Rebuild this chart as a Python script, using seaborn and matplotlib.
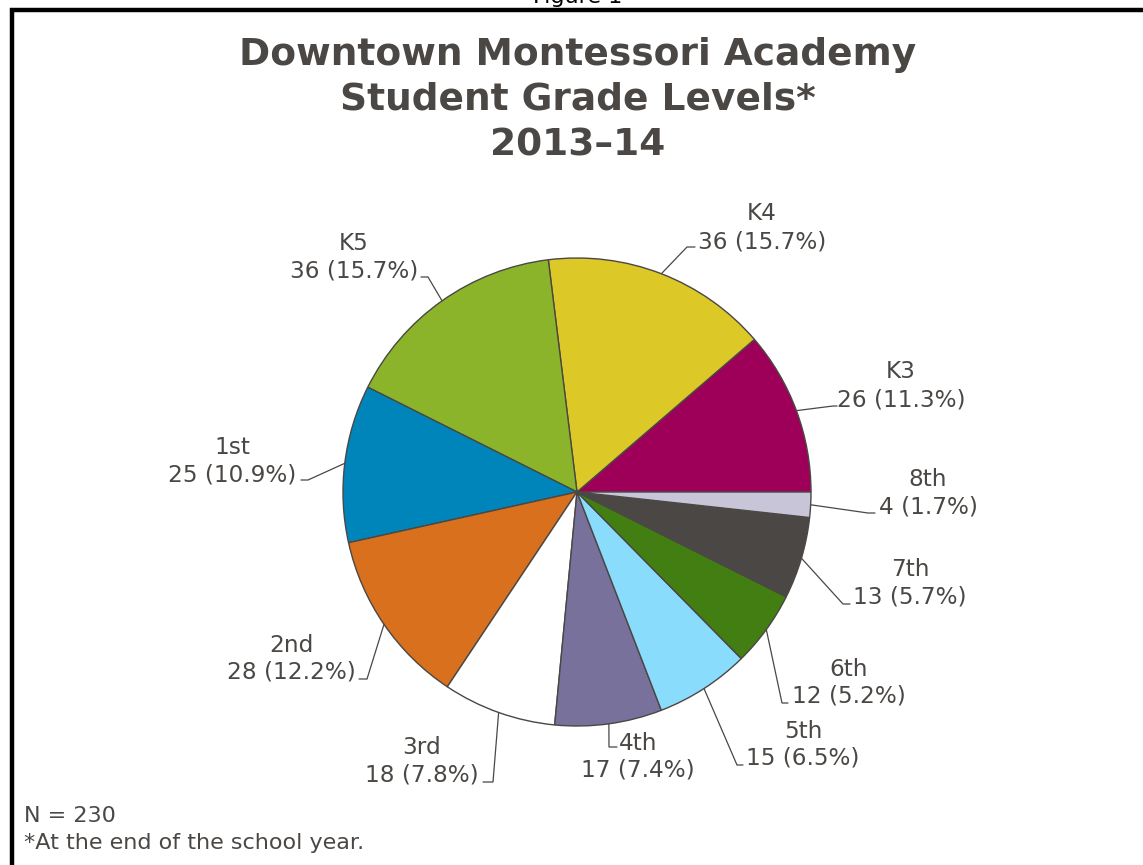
import numpy as np
import matplotlib
matplotlib.use("Agg")
import matplotlib.pyplot as plt
import seaborn as sns

# ---- data ----
grades = ["K3", "K4", "K5", "1st", "2nd", "3rd", "4th", "5th", "6th", "7th", "8th"]
students = [26, 36, 36, 25, 28, 18, 17, 15, 12, 13, 4]
percents = [11.3, 15.7, 15.7, 10.9, 12.2, 7.8, 7.4, 6.5, 5.2, 5.7, 1.7]
slice_colors = ["#9E0059", "#DCC827", "#8CB42B", "#0085BB", "#D8701D", "#FFFFFF",
                "#78719C", "#8ADCFD", "#427E12", "#4B4745", "#C8C5D9"]
n_total = 230

TXT = "#4A4744"
W, H = 1143, 865

sns.set_theme(style="white")
plt.rcParams["font.family"] = ["DejaVu Sans"]

fig = plt.figure(figsize=(W / 100, H / 100), dpi=100)
ax = fig.add_axes([0, 0, 1, 1])

def Y(py):
    # pixel row (from top) -> data y
    return H - py

cx, cy, r = 577, Y(492), 234
wedges, _ = ax.pie(students, colors=slice_colors, startangle=0, counterclock=True,
                   center=(cx, cy), radius=r,
                   wedgeprops=dict(edgecolor=TXT, linewidth=1.0))
ax.set_xlim(0, W)
ax.set_ylim(0, H)
ax.set_aspect("equal")
ax.axis("off")

# label layout: elbow point, end of small tick, text centre x, line rows (pixels from top)
elbows = [(833, 406), (687, 247), (428, 277), (308, 480), (367, 679), (493, 782),
          (609, 747), (737, 765), (782, 703), (843, 604), (868, 513)]
ticks = [(837, 406), (695, 247), (421, 277), (301, 480), (359, 679), (483, 782),
         (617, 747), (743, 765), (788, 703), (850, 604), (875, 513)]
text_x = [901, 762, 354, 232, 291, 422, 638, 803, 849, 910, 928]
row1 = [372, 214, 243, 447, 645, 748, 743, 731, 669, 570, 479]
row2 = [400, 242, 271, 475, 672, 775, 770, 758, 696, 597, 507]

for w, g, n, p, e, t, tx, r1, r2 in zip(wedges, grades, students, percents,
                                         elbows, ticks, text_x, row1, row2):
    mid = np.deg2rad((w.theta1 + w.theta2) / 2)
    ex, ey = cx + r * np.cos(mid), cy + r * np.sin(mid)
    ax.plot([ex, e[0], t[0]], [ey, Y(e[1]), Y(t[1])], color=TXT, lw=0.9,
            solid_joinstyle="miter")
    ax.text(tx, Y(r1), g, ha="center", va="center", fontsize=16.7, color=TXT)
    ax.text(tx, Y(r2), f"{n} ({p:.1f}%)", ha="center", va="center", fontsize=16.7, color=TXT)

# titles
title_lines = ["Downtown Montessori Academy", "Student Grade Levels*", "2013\u201314"]
for line, py in zip(title_lines, [55, 100, 145]):
    ax.text(578, Y(py), line, ha="center", va="center", fontsize=27,
            fontweight="bold", color=TXT)

# notes
ax.text(24, Y(816), f"N = {n_total}", ha="left", va="center", fontsize=16, color=TXT)
ax.text(24, Y(843), "*At the end of the school year.", ha="left", va="center",
        fontsize=16, color=TXT)

# figure caption cut off at top
fig.text(578 / W, 1 + 3 / H, "Figure 1", ha="center", va="center", fontsize=16,
         color="black")

# frame (only left and top edges inside the image)
ax.plot([12, 12, W + 10], [-10, Y(10), Y(10)], color="black", lw=3.2,
        solid_joinstyle="miter", clip_on=False)

fig.savefig("out.png", dpi=100, facecolor="white")
